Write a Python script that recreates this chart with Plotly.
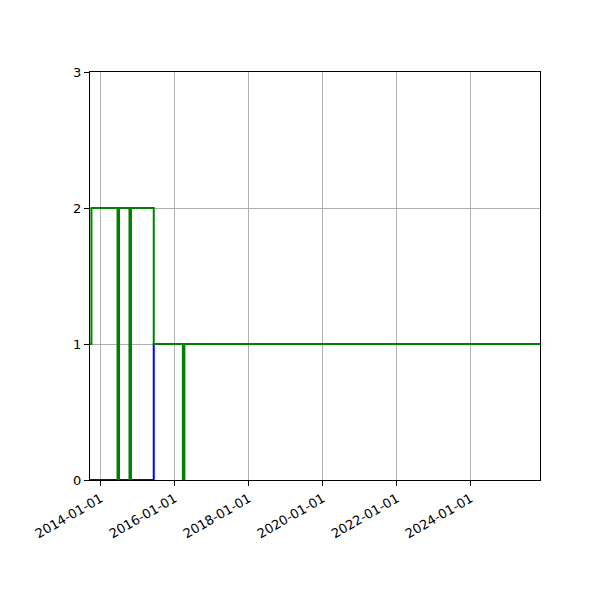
import plotly.graph_objects as go

# step series
blue_dates = ["2013-09-17", "2015-06-08", "2025-11-14"]
blue_values = [0, 1, 1]

green_dates = ["2013-09-17", "2013-10-01", "2015-06-08", "2025-11-14"]
green_values = [1, 2, 1, 1]

# thick vertical marks
spike_dates = ["2014-06-23", "2014-10-19", "2016-03-29"]
spike_heights = [2, 2, 1]

tick_dates = ["2014-01-01", "2016-01-01", "2018-01-01", "2020-01-01", "2022-01-01", "2024-01-01"]
y_ticks = [0, 1, 2, 3]

fig = go.Figure()

fig.add_trace(go.Scatter(x=blue_dates, y=blue_values, mode="lines",
                         line=dict(color="#0000ff", width=2, shape="hv")))
fig.add_trace(go.Scatter(x=green_dates, y=green_values, mode="lines",
                         line=dict(color="#008000", width=2, shape="hv")))

for d, h in zip(spike_dates, spike_heights):
    fig.add_trace(go.Scatter(x=[d, d], y=[0, h], mode="lines",
                             line=dict(color="#008000", width=3.5)))

# page body has an 8px margin, so shift margins to land the axes where they were
fig.update_layout(
    width=600, height=600,
    margin=dict(l=82, r=68, t=64, b=128),
    plot_bgcolor="white", paper_bgcolor="white",
    showlegend=False,
    font=dict(family="DejaVu Sans", size=13, color="black"),
)
fig.update_xaxes(
    range=["2013-09-17", "2025-11-14"],
    tickvals=tick_dates, ticktext=tick_dates, tickangle=-30,
    showgrid=True, gridcolor="#b0b0b0", gridwidth=1,
    showline=True, linecolor="black", linewidth=1.3, mirror=True,
    ticks="outside", ticklen=5, tickcolor="black", zeroline=False,
)
fig.update_yaxes(
    range=[0, 3], tickvals=y_ticks,
    showgrid=True, gridcolor="#b0b0b0", gridwidth=1,
    showline=True, linecolor="black", linewidth=1.3, mirror=True,
    ticks="outside", ticklen=5, tickcolor="black", zeroline=False,
)

fig.write_html("out.html")
